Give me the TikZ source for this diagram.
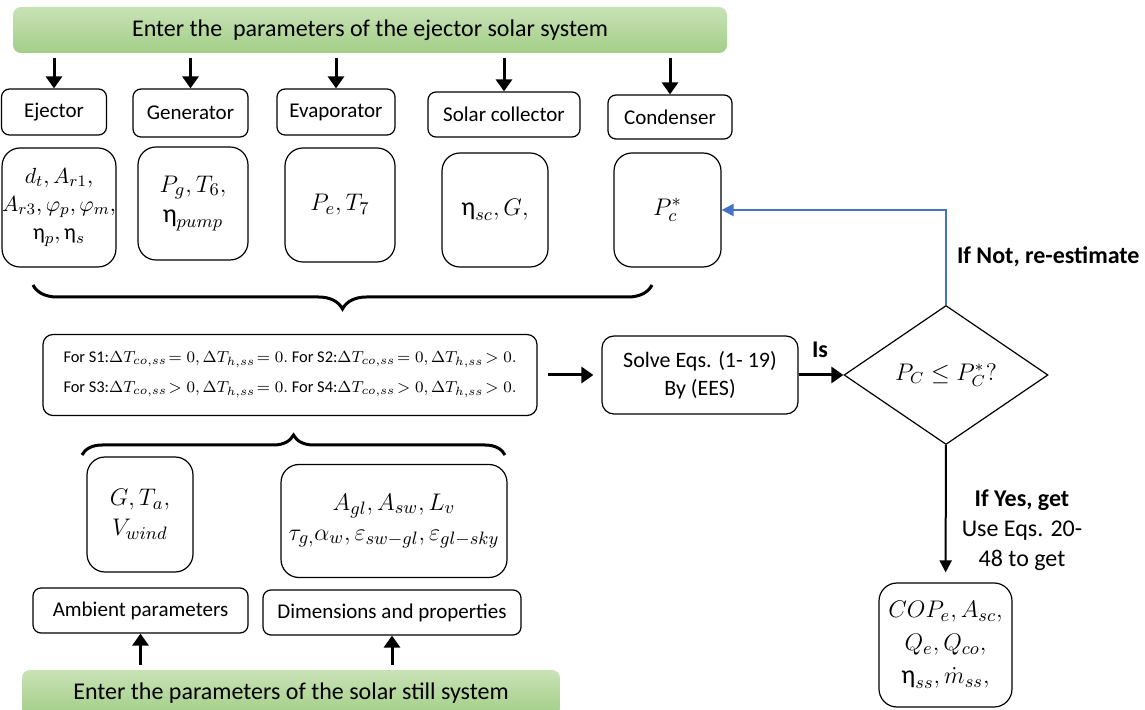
\documentclass[tikz,border=0pt]{standalone}
\usepackage{amsmath}
\usepackage[no-math]{fontspec}
\setmainfont{Carlito}
\usetikzlibrary{shapes.geometric,arrows.meta,decorations.pathreplacing}
\definecolor{barlight}{RGB}{200,226,182}
\definecolor{bardark}{RGB}{163,206,135}
\definecolor{loopblue}{RGB}{68,114,196}

\begin{document}
\begin{tikzpicture}[x=0.5pt,y=-0.5pt]
%%%%%%%%%%%%%%%%%%%%%%%%%%%%%%%%%%%%%%%%%%%%%%%%%%%%%%%%
% STYLE
\tikzstyle{inputbar}=[rectangle,rounded corners=4pt,top color=barlight,bottom color=bardark,font=\fontsize{12}{14}\selectfont,inner sep=0pt]
\tikzstyle{part}=[rectangle,rounded corners=4pt,draw,line width=0.6pt,font=\fontsize{10.5}{12}\selectfont,inner sep=0pt]
\tikzstyle{vals}=[rectangle,rounded corners=9pt,draw,line width=0.6pt,font=\fontsize{13}{15}\selectfont,align=center,inner sep=0pt]
\tikzstyle{decision}=[diamond,draw,line width=0.6pt,font=\fontsize{12}{14}\selectfont,inner sep=0pt,aspect=1.5]
\tikzstyle{txt}=[font=\fontsize{12}{15}\selectfont]
\tikzstyle{bigarrow}=[line width=1.5pt,-{Triangle[length=6pt,width=8pt]}]
\tikzstyle{thinarrow}=[line width=1pt,-{Triangle[length=6pt,width=6pt]}]
\tikzstyle{bluearrow}=[line width=1.1pt,loopblue,-{Triangle[length=6pt,width=6pt]}]
\tikzstyle{bigbrace}=[decorate,line width=1.5pt]

\useasboundingbox (0,0) rectangle (1145,710);

%%%%%%%%%%%%%%%%%%%%%%%%%%%%%%%%%%%%%%%%%%%%%%%%%%%%%%%%
% NODES
\node[inputbar,minimum width=357pt,minimum height=23pt] (ejsys) at (370,30) {Enter the~ parameters of the ejector solar system};

\node[part,minimum width=52.5pt,minimum height=23pt] (ejector) at (54,112) {Ejector};
\node[part,minimum width=57.5pt,minimum height=24pt] (generator) at (190.5,113) {Generator};
\node[part,minimum width=59pt,minimum height=23pt] (evaporator) at (336,112) {Evaporator};
\node[part,minimum width=76pt,minimum height=22.5pt] (collector) at (504,114.5) {Solar collector};
\node[part,minimum width=62pt,minimum height=22pt] (condenser) at (670,117) {Condenser};

\node[vals,minimum width=53pt,minimum height=59.5pt,font=\fontsize{11}{14}\selectfont] (ejval) at (59,207.5) {$d_t, A_{r1},$\\$A_{r3}, \varphi_p, \varphi_m,$\\$\text{η}_p, \text{η}_s$};
\node[vals,minimum width=55pt,minimum height=56.5pt] (genval) at (193,203.5) {$P_g, T_6,$\\$\text{η}_{pump}$};
\node[vals,minimum width=55pt,minimum height=57pt] (evapval) at (340,205) {$P_e, T_7$};
\node[vals,minimum width=53pt,minimum height=57pt] (colval) at (495,210) {$\text{η}_{sc}, G,$};
\node[vals,minimum width=53.5pt,minimum height=57pt] (condval) at (667.5,210) {$P_c^*$};

\coordinate (tb1) at (33,285);
\coordinate (tb2) at (652,285);

\node[part,rounded corners=5pt,minimum width=247pt,minimum height=40.5pt,align=left,font=\fontsize{8.2}{15}\selectfont] (cases) at (290,375) {For S1:$\Delta T_{co,ss}\!= 0, \Delta T_{h,ss}\!= 0.$ For S2:$\Delta T_{co,ss}\!= 0, \Delta T_{h,ss}\!> 0.$\\For S3:$\Delta T_{co,ss}\!> 0, \Delta T_{h,ss}\!= 0.$ For S4:$\Delta T_{co,ss}\!> 0, \Delta T_{h,ss}\!> 0.$};
\node[part,rounded corners=6pt,minimum width=98pt,minimum height=39pt,align=center,font=\fontsize{11}{14}\selectfont] (solve) at (700,375) {Solve Eqs. (1- 19)\\By (EES)};
\node[decision,minimum width=102pt,minimum height=69.5pt] (check) at (946,375) {$P_C \le P_C^*?$};
\node[vals,minimum width=66.5pt,minimum height=62pt,font=\fontsize{13}{16.5}\selectfont] (results) at (945.5,645) {$COP_e, A_{sc},$\\$Q_e, Q_{co},$\\$\text{η}_{ss}, \dot{m}_{ss},$};

\coordinate (bb1) at (82,455);
\coordinate (bb2) at (505,455);

\node[vals,minimum width=53pt,minimum height=57.5pt] (ambval) at (140,514.5) {$G, T_a,$\\$V_{wind}$};
\node[vals,minimum width=113pt,minimum height=56.5pt] (dimval) at (394,521) {$A_{gl}, A_{sw}, L_v$\\$\tau_{g,}\alpha_w, \varepsilon_{sw-gl}, \varepsilon_{gl-sky}$};
\node[part,minimum width=107.5pt,minimum height=22.5pt] (ambient) at (140.5,610.5) {Ambient parameters};
\node[part,minimum width=129pt,minimum height=22.5pt] (dimensions) at (392,612.5) {Dimensions and properties};

\node[inputbar,minimum width=269pt,minimum height=23pt] (stillsys) at (291,693) {Enter the parameters of the solar still system};

\node[txt,font=\fontsize{12}{15}\selectfont\bfseries] (t1) at (820,350) {Is};
\node[txt,anchor=west,font=\fontsize{12}{15}\selectfont\bfseries] (t2) at (950,257) {If Not, re-estimate};
\node[txt,align=center] (t3) at (1022,530) {\textbf{If Yes, get}\\Use Eqs. 20-\\48 to get};

%%%%%%%%%%%%%%%%%%%%%%%%%%%%%%%%%%%%%%%%%%%%%%%%%%%%%%%%
% LINKS
\draw[bigarrow,shorten <=2.5pt] (ejsys.south -| ejector.north) -- (ejector.north);
\draw[bigarrow,shorten <=2.5pt] (ejsys.south -| generator.north) -- (generator.north);
\draw[bigarrow,shorten <=2.5pt] (ejsys.south -| evaporator.north) -- (evaporator.north);
\draw[bigarrow,shorten <=2.5pt] (ejsys.south -| collector.north) -- (collector.north);
\draw[bigarrow,shorten <=2.5pt] (ejsys.south -| condenser.north) -- (condenser.north);

\draw[bigbrace,decoration={brace,mirror,amplitude=12pt}] (tb1) -- (tb2);
\draw[bigbrace,decoration={brace,amplitude=10pt}] (bb1) -- (bb2);

\draw[bigarrow,shorten <=5pt,shorten >=4pt] (cases) -- (solve);
\draw[bigarrow] (solve) -- (check);
\draw[bluearrow] (check.north) |- (condval.east);
\draw[thinarrow,shorten >=5pt] (check) -- (results);

\draw[bigarrow,shorten <=2.5pt] (stillsys.north -| ambient.south) -- (ambient.south);
\draw[bigarrow,shorten <=2.5pt] (stillsys.north -| dimensions.south) -- (dimensions.south);

\end{tikzpicture}
\end{document}
